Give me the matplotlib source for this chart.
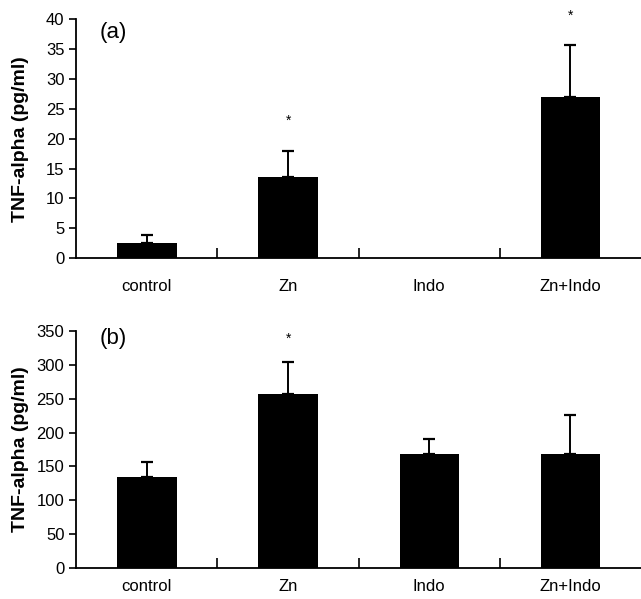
import matplotlib
matplotlib.use("Agg")
import matplotlib.pyplot as plt

groups = ["control", "Zn", "Indo", "Zn+Indo"]

# panel (a)
tnf_a = [2.5, 13.6, 0.0, 27.0]
err_a = [1.3, 4.4, 0.0, 8.6]
star_a = [None, 23.0, None, 40.5]

# panel (b)
tnf_b = [134, 257, 169, 169]
err_b = [22, 47, 21, 57]
star_b = [None, 339, None, None]

plt.rcParams["font.family"] = ["Liberation Sans", "DejaVu Sans"]


def panel(ax, vals, errs, stars, ymax, ystep, tag, tag_y, xpad):
    x = range(len(groups))
    ax.bar(x, vals, width=0.42, color="black", zorder=2)
    keep = [i for i, e in enumerate(errs) if e > 0]
    ax.errorbar(keep, [vals[i] for i in keep],
                yerr=[[0] * len(keep), [errs[i] for i in keep]], fmt="none",
                ecolor="black", elinewidth=1.4, capsize=4, capthick=1.6, zorder=3)
    for i, s in enumerate(stars):
        if s is not None:
            ax.text(i, s, "*", ha="center", va="center", fontsize=10)
    ax.set_xlim(-0.5, 3.5)
    ax.set_ylim(0, ymax)
    ax.set_yticks(range(0, ymax + 1, ystep))
    ax.set_xticks(range(len(groups)))
    ax.set_xticklabels(groups)
    ax.set_xticks([0.5, 1.5, 2.5], minor=True)
    ax.tick_params(axis="x", which="major", length=0, pad=xpad, labelsize=12)
    ax.tick_params(axis="x", which="minor", direction="in", length=7, width=1.2)
    ax.tick_params(axis="y", direction="out", length=5, width=1.2, labelsize=12)
    for side in ("top", "right"):
        ax.spines[side].set_visible(False)
    for side in ("left", "bottom"):
        ax.spines[side].set_linewidth(1.3)
    ax.set_ylabel("TNF-alpha (pg/ml)", fontsize=14, fontweight="bold")
    ax.yaxis.set_label_coords(-0.083, 0.5)
    ax.text(0.042, tag_y, tag, transform=ax.transAxes, fontsize=16, va="center", ha="left")


fig = plt.figure(figsize=(6.41, 5.99), dpi=100)
ax_a = fig.add_axes([0.119, 0.569, 0.881, 0.399])
ax_b = fig.add_axes([0.119, 0.052, 0.881, 0.395])
panel(ax_a, tnf_a, err_a, star_a, 40, 5, "(a)", 0.945, 15)
panel(ax_b, tnf_b, err_b, star_b, 350, 50, "(b)", 0.97, 8)

fig.savefig("out.png", dpi=100)
